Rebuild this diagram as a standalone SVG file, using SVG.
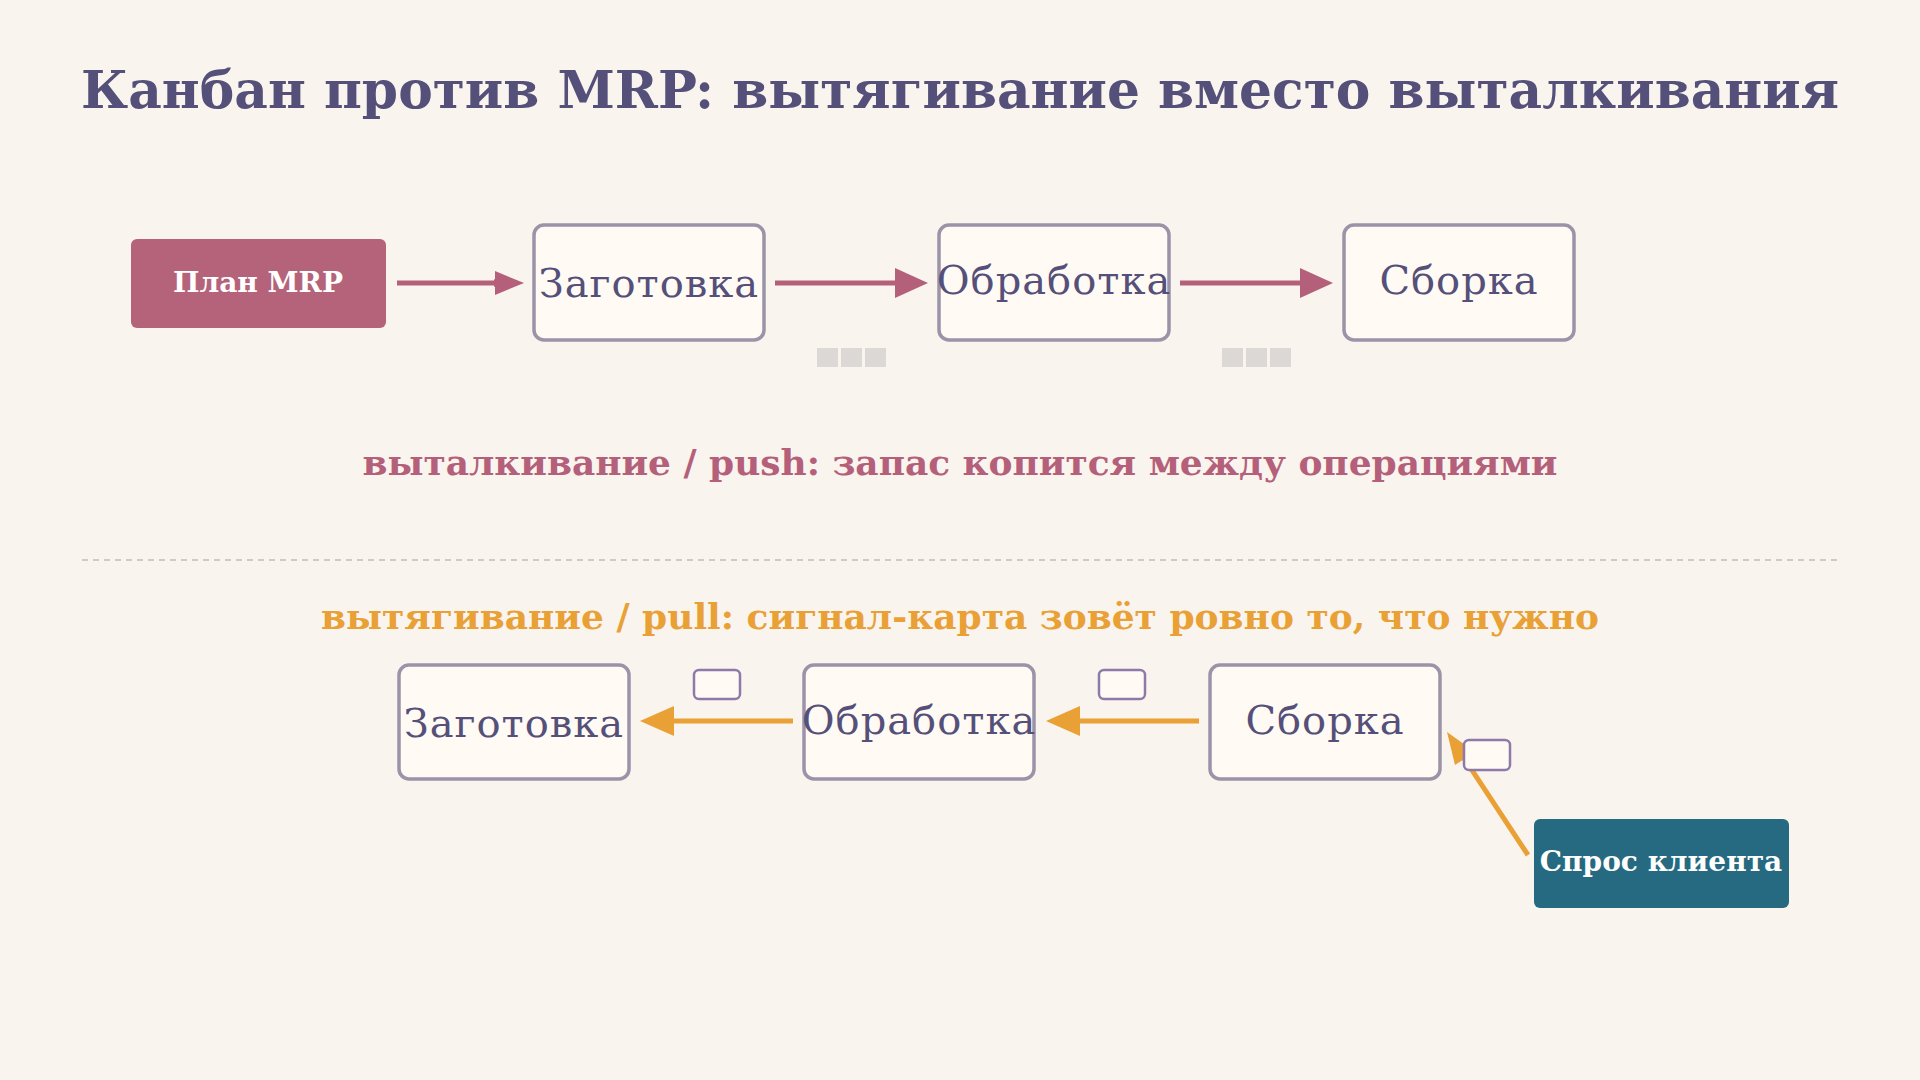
<svg xmlns="http://www.w3.org/2000/svg" width="1920" height="1080" viewBox="0 0 1920 1080">
<defs>
<style>
.t{font-family:"DejaVu Serif","Liberation Serif",serif}
.box{fill:#fffaf3;stroke:#9b93a8;stroke-width:3.5}
.nt{font-family:"DejaVu Serif","Liberation Serif",serif;font-size:40px;fill:#55507a;text-anchor:middle;letter-spacing:1px}
.card{fill:#fffaf3;stroke:#8e7aa8;stroke-width:2.5}
.sq{fill:#dcd8d6}
.push{stroke:#b5607a;stroke-width:5;fill:none}
.pull{stroke:#e9a035;stroke-width:5;fill:none}
</style>
<marker id="ap" markerWidth="8" markerHeight="8" refX="6" refY="4" orient="auto" markerUnits="userSpaceOnUse" viewBox="0 0 8 8"><path d="M0,0 L8,4 L0,8z" fill="#b5607a"/></marker>
<marker id="ao" markerWidth="8" markerHeight="8" refX="6" refY="4" orient="auto" markerUnits="userSpaceOnUse" viewBox="0 0 8 8"><path d="M0,0 L8,4 L0,8z" fill="#e9a035"/></marker>
</defs>
<rect width="1920" height="1080" fill="#f9f4ee"/>
<text class="t" x="960" y="108" font-size="52" font-weight="bold" fill="#55507a" text-anchor="middle" textLength="1758" lengthAdjust="spacingAndGlyphs">Канбан против MRP: вытягивание вместо выталкивания</text>
<g id="connectors">
<path class="push" d="M397,283 H500" marker-end="url(#ap)" style="--m:0"/>
<path class="push" d="M775,283 H900"/><path d="M895,268 L928,283 L895,298z" fill="#b5607a"/>
<path class="push" d="M1180,283 H1305"/><path d="M1300,268 L1333,283 L1300,298z" fill="#b5607a"/>
<path class="pull" d="M793,721 H670"/><path d="M674,706 L640,721 L674,736z" fill="#e9a035"/>
<path class="pull" d="M1199,721 H1076"/><path d="M1080,706 L1046,721 L1080,736z" fill="#e9a035"/>
<path class="pull" d="M1528,855 L1462,755"/><path d="M1447,732 L1475,752 L1455,765z" fill="#e9a035"/>
</g>
<path d="M495,271 L524,283 L495,295z" fill="#b5607a"/>
<g id="plan"><rect x="131" y="239" width="255" height="89" rx="6" fill="#b5637a"/><text class="t" x="258" y="292" font-size="28" font-weight="bold" fill="#fff" text-anchor="middle">План MRP</text></g>
<g id="p1"><rect class="box" x="534" y="225" width="230" height="115" rx="10"/><text class="nt" x="649" y="297">Заготовка</text></g>
<g id="p2"><rect class="box" x="939" y="225" width="230" height="115" rx="10"/><text class="nt" x="1054" y="294">Обработка</text></g>
<g id="p3"><rect class="box" x="1344" y="225" width="230" height="115" rx="10"/><text class="nt" x="1459" y="294">Сборка</text></g>
<g id="inv1"><rect class="sq" x="817" y="348" width="21" height="19"/><rect class="sq" x="841" y="348" width="21" height="19"/><rect class="sq" x="865" y="348" width="21" height="19"/></g>
<g id="inv2"><rect class="sq" x="1222" y="348" width="21" height="19"/><rect class="sq" x="1246" y="348" width="21" height="19"/><rect class="sq" x="1270" y="348" width="21" height="19"/></g>
<text class="t" x="960" y="475" font-size="36" font-weight="bold" fill="#b5607a" text-anchor="middle" textLength="1195" lengthAdjust="spacingAndGlyphs">выталкивание / push: запас копится между операциями</text>
<line x1="82" y1="560" x2="1838" y2="560" stroke="#cfcac4" stroke-width="2" stroke-dasharray="6,5"/>
<text class="t" x="960" y="629" font-size="36" font-weight="bold" fill="#e9a035" text-anchor="middle" textLength="1278" lengthAdjust="spacingAndGlyphs">вытягивание / pull: сигнал-карта зовёт ровно то, что нужно</text>
<g id="q1"><rect class="box" x="399" y="665" width="230" height="114" rx="10"/><text class="nt" x="514" y="737">Заготовка</text></g>
<g id="q2"><rect class="box" x="804" y="665" width="230" height="114" rx="10"/><text class="nt" x="919" y="734">Обработка</text></g>
<g id="q3"><rect class="box" x="1210" y="665" width="230" height="114" rx="10"/><text class="nt" x="1325" y="734">Сборка</text></g>
<g id="cards"><rect class="card" x="694" y="670" width="46" height="29" rx="5"/><rect class="card" x="1099" y="670" width="46" height="29" rx="5"/><rect class="card" x="1464" y="740" width="46" height="30" rx="5"/></g>
<g id="demand"><rect x="1534" y="819" width="255" height="89" rx="6" fill="#256a80"/><text class="t" x="1661" y="871" font-size="28" font-weight="bold" fill="#fff" text-anchor="middle">Спрос клиента</text></g>
</svg>
